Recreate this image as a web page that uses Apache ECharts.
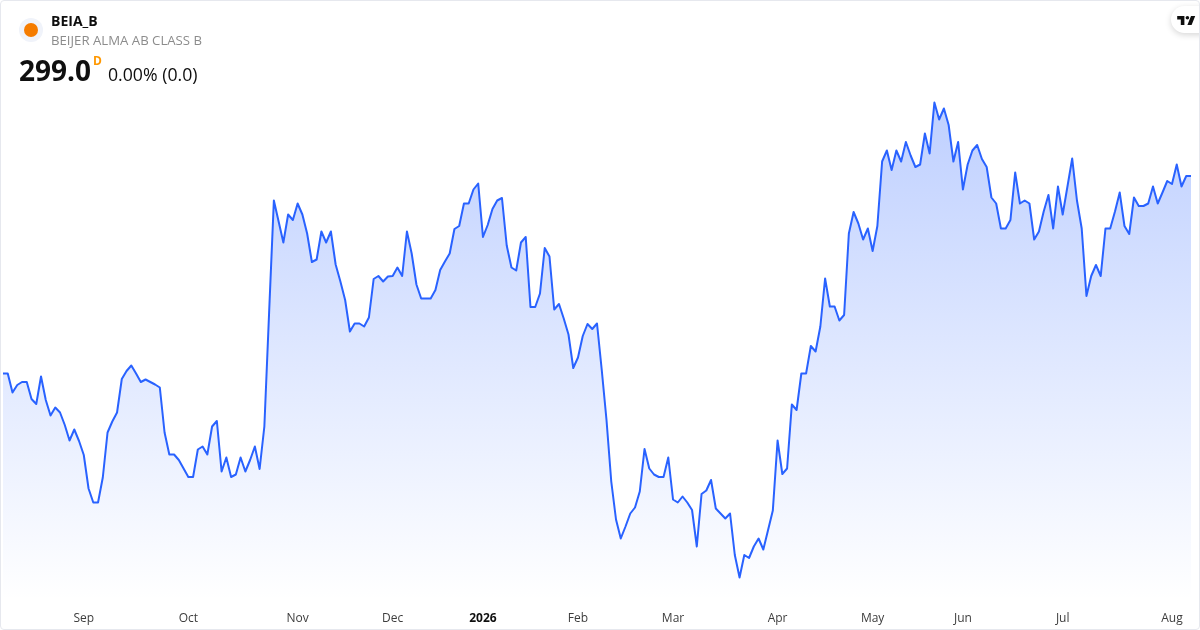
<!DOCTYPE html>
<html>
<head>
<meta charset="utf-8">
<style>
html,body{margin:0;padding:0;background:#fff}
#c{width:1200px;height:630px}
#b{position:absolute;left:0;top:0;width:1198px;height:628px;border:1px solid #e6e8ee;border-radius:4px;pointer-events:none}
</style>
<script src="https://cdn.jsdelivr.net/npm/echarts@6/dist/echarts.min.js"></script>
</head>
<body>
<div id="c"></div><div id="b"></div>
<script>
const symbol = 'BEIA_B';
const companyName = 'BEIJER ALMA AB CLASS B';
const lastPrice = '299.0';
const changeText = '0.00% (0.0)';
const priceLabels = ['D'];
const monthLabels = ['Sep','Oct','Nov','Dec','2026','Feb','Mar','Apr','May','Jun','Jul','Aug'];
const monthIndex = [17,39,62,82,101,121,141,163,183,202,223,246];
const prices = [
259.5,259.5,255.7,257.2,257.8,257.8,254.4,253.4,258.9,254.2,
251.1,252.7,251.7,249.2,246.1,248.3,246,243.2,236.5,233.7,
233.7,238.7,247.7,249.9,251.7,258.4,260,261.1,259.5,257.8,
258.3,257.8,257.3,256.7,247.7,243.3,243.3,242.2,240.5,238.8,
238.8,244.3,244.9,243.3,248.9,250,239.9,242.7,238.8,239.3,
242.7,239.9,242.2,244.9,240.4,248.9,271.7,294.1,289.9,285.7,
291.3,290.2,293.5,291.3,287.5,281.8,282.3,287.9,285.7,287.9,
281.3,277.9,274.2,267.9,269.5,269.5,268.9,270.7,278.4,279,
277.9,278.9,279,280.7,279,287.9,283.5,277.3,274.5,274.5,
274.5,276.2,280.2,281.9,283.5,288.4,289,293.5,293.5,296.3,
297.5,286.8,289.2,292.4,294.1,294.6,285.1,280.7,280.1,285.7,
286.8,272.8,272.8,275.5,284.6,282.9,272.3,273.4,270.5,267.3,
260.6,262.7,267,269.4,268.4,269.5,260.2,250.2,237.9,230.3,
226.5,228.9,231.5,232.7,235.9,244.4,240.5,239.3,238.8,238.8,
242.7,234.3,233.7,234.9,233.7,232.2,224.9,235.4,236.1,238.2,
232.5,231.5,230.5,231.5,223.2,218.7,223.2,222.6,224.9,226.5,
224.3,228.2,232.1,246.1,239.4,240.5,253.3,252.2,259.5,259.5,
265,263.9,268.9,278.5,272.9,272.9,270.1,271.2,287.5,291.8,
289.5,286.3,288.5,284,289,301.9,304.1,300.2,304.1,301.9,
305.8,303.1,300.8,301.3,307.5,303.5,313.7,310.3,312.5,309.2,
301.9,305.8,296.3,301.3,304.1,305.2,302.4,300.8,294.7,293.5,
288.5,288.5,290.2,299.7,293.5,294.1,293.5,286.3,287.9,291.9,
295.2,288.5,296.9,291.3,296.9,302.5,294.1,288.5,275,279,
281.2,279,288.5,288.5,291.9,295.7,289,287.4,294.7,293,
293,293.5,296.9,293.5,295.7,298,297.4,301.3,296.9,299,299
];
const categories = prices.map((_, i) => {
  const k = monthIndex.indexOf(i);
  return k >= 0 ? monthLabels[k] : '';
});
const FONT = '"Open Sans","Noto Sans",sans-serif';
const chart = echarts.init(document.getElementById('c'), null, {renderer:'canvas'});
const logo = {x:1176,y:12.4,scaleX:0.6,scaleY:0.6,style:{fill:'#0f0f0f'}};
chart.setOption({
  animation:false,
  backgroundColor:'#ffffff',
  grid:{left:2,right:9,top:0,bottom:30},
  xAxis:{
    type:'category',data:categories,boundaryGap:false,
    axisLine:{show:false},axisTick:{show:false},splitLine:{show:false},
    axisLabel:{
      interval:0,hideOverlap:false,margin:12.5,fontFamily:FONT,fontSize:12,color:'#3d3d3d',
      formatter:v=>/^\d+$/.test(v)?'{b|'+v+'}':v,
      rich:{b:{fontWeight:'bold',fontFamily:FONT,fontSize:12,color:'#0f0f0f'}}
    }
  },
  yAxis:{type:'value',min:214.2,max:334.2,show:false,splitLine:{show:false}},
  series:[{
    type:'line',data:prices,showSymbol:false,smooth:false,
    lineStyle:{color:'#2962ff',width:2,join:'round'},
    areaStyle:{origin:'start',opacity:1,color:new echarts.graphic.LinearGradient(0,102,0,600,[
      {offset:0,color:'rgba(41,98,255,0.3)'},{offset:1,color:'rgba(41,98,255,0)'}],true)},
    silent:true
  }],
  graphic:[
    {type:'circle',shape:{cx:31,cy:30,r:12},style:{fill:'#f0f3fa'}},
    {type:'circle',shape:{cx:31,cy:30,r:7},style:{fill:'#f57c00'}},
    {type:'text',x:51,y:22,style:{text:symbol,font:'700 14px '+FONT,fill:'#0f0f0f',verticalAlign:'middle'}},
    {type:'text',x:51,y:41,style:{text:companyName,font:'13.2px '+FONT,fill:'#8c8c8c',verticalAlign:'middle'}},
    {type:'text',x:19,y:73.5,style:{text:lastPrice,font:'700 28px '+FONT,fill:'#0f0f0f',verticalAlign:'middle'}},
    {type:'text',x:93,y:62,style:{text:priceLabels[0],font:'700 12px '+FONT,fill:'#ff9800',verticalAlign:'middle'}},
    {type:'text',x:108,y:76,style:{text:changeText,font:'17.7px '+FONT,fill:'#0f0f0f',verticalAlign:'middle'}},
    {type:'rect',shape:{x:1171,y:6,width:40,height:27,r:[14,0,0,14]},style:{fill:'#fff',shadowBlur:6,shadowColor:'rgba(0,0,0,0.16)',shadowOffsetY:2}},
    Object.assign({type:'polygon',shape:{points:[[2,6],[14,6],[14,21],[8,21],[8,12],[2,12]]}},logo),
    Object.assign({type:'polygon',shape:{points:[[26,21],[19,21],[25,6],[32,6]]}},logo),
    Object.assign({type:'circle',shape:{cx:19,cy:9,r:3}},logo)
  ]
});
</script>
</body>
</html>
